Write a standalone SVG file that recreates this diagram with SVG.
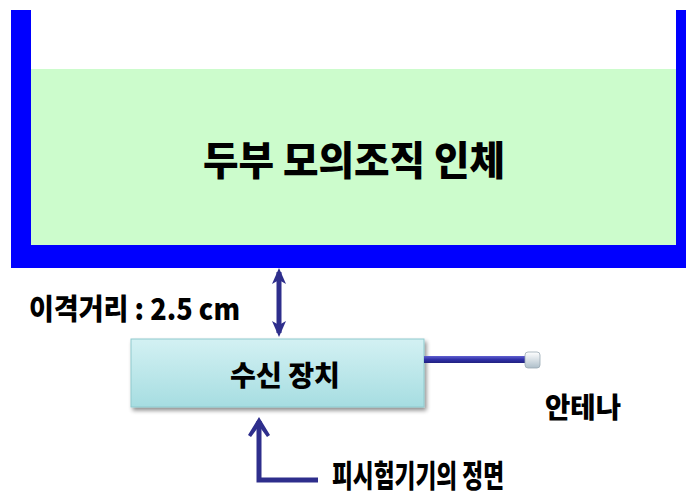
<svg xmlns="http://www.w3.org/2000/svg" width="686" height="499" viewBox="0 0 686 499">
<defs>
<linearGradient id="boxg" x1="0" y1="0" x2="0" y2="1">
<stop offset="0" stop-color="#d3f1f3"/>
<stop offset="1" stop-color="#a6dde1"/>
</linearGradient>
<linearGradient id="antg" x1="0" y1="0" x2="0" y2="1">
<stop offset="0" stop-color="#6060d0"/>
<stop offset="0.5" stop-color="#3030a8"/>
<stop offset="1" stop-color="#202080"/>
</linearGradient>
<linearGradient id="knobg" x1="0" y1="0" x2="0" y2="1">
<stop offset="0" stop-color="#ffffff"/>
<stop offset="1" stop-color="#aebfca"/>
</linearGradient>
<filter id="sh" x="-10%" y="-10%" width="130%" height="140%">
<feGaussianBlur in="SourceAlpha" stdDeviation="2"/>
<feOffset dx="2" dy="3" result="b"/>
<feComponentTransfer><feFuncA type="linear" slope="0.45"/></feComponentTransfer>
<feMerge><feMergeNode/><feMergeNode in="SourceGraphic"/></feMerge>
</filter>
<marker id="ah" viewBox="0 0 16 14" refX="12" refY="7" markerWidth="16" markerHeight="14" markerUnits="userSpaceOnUse" orient="auto-start-reverse">
<path d="M16 7 L0 0 L4 7 L0 14 Z" fill="#2e2e8c"/>
</marker>
<marker id="ah2" viewBox="0 0 20 22" refX="16" refY="11" markerWidth="20" markerHeight="22" markerUnits="userSpaceOnUse" orient="auto-start-reverse">
<path d="M20 11 L2 0 L0 3 L11 11 L0 19 L2 22 Z" fill="#2e2e8c"/>
</marker>
</defs>
<style>
.t{font-family:"Noto Sans CJK KR","Noto Sans",sans-serif;font-weight:900;fill:#000}
.arr{stroke:#2e2e8c;fill:none;stroke-width:5}
</style>
<rect width="686" height="499" fill="#ffffff"/>

<g id="phantom">
<rect x="31" y="69" width="646" height="176" fill="#ccfccc"/>
<path d="M11 10 H31 V245 H676 V10 H686 V268 H11 Z" fill="#0000ff"/>
<text class="t" x="354" y="175" font-size="40" text-anchor="middle" textLength="302" lengthAdjust="spacingAndGlyphs">두부 모의조직 인체</text>
</g>

<g id="distance-label">
<text class="t" x="29" y="320" font-size="29" textLength="211" lengthAdjust="spacingAndGlyphs">이격거리 : 2.5 cm</text>
</g>

<g id="receiver">
<rect x="131" y="339" width="293" height="68" fill="url(#boxg)" stroke="#8fc9cd" stroke-width="1" filter="url(#sh)"/>
<text class="t" x="285" y="386" font-size="28" text-anchor="middle" textLength="110" lengthAdjust="spacingAndGlyphs">수신 장치</text>
</g>

<g id="antenna">
<rect x="424" y="356" width="103" height="7" fill="url(#antg)"/>
<rect x="525" y="352" width="15" height="16" rx="3" fill="url(#knobg)" stroke="#9aaab4" stroke-width="0.8"/>
<text class="t" x="545" y="418" font-size="28" textLength="76" lengthAdjust="spacingAndGlyphs">안테나</text>
</g>

<g id="front-label">
<text class="t" x="332" y="487" font-size="31" textLength="172" lengthAdjust="spacingAndGlyphs">피시험기기의 정면</text>
</g>

<g id="connectors">
<line class="arr" x1="279" y1="272" x2="279" y2="333" marker-start="url(#ah)" marker-end="url(#ah)"/>
<path class="arr" d="M259 421 V480 H318" marker-start="url(#ah2)"/>
</g>
</svg>
